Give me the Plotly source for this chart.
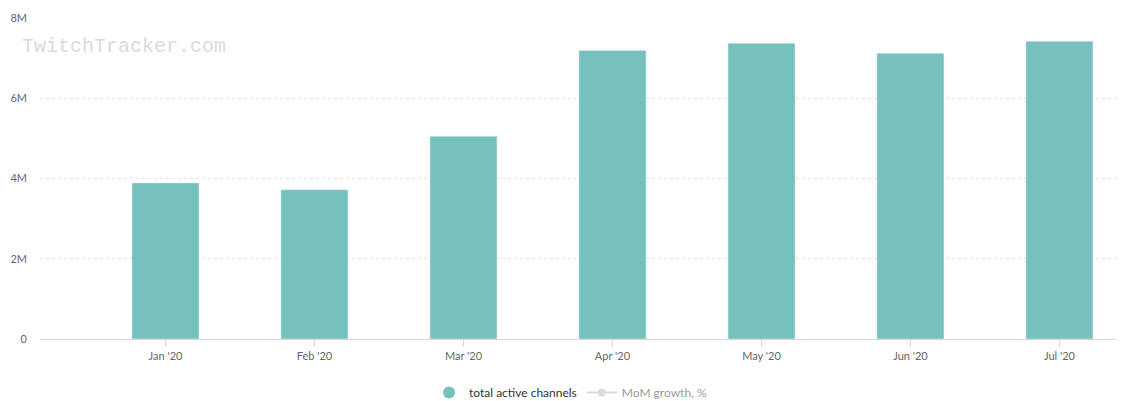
import plotly.graph_objects as go

months = ["Jan '20", "Feb '20", "Mar '20", "Apr '20", "May '20", "Jun '20", "Jul '20"]
active_channels = [3890000, 3720000, 5050000, 7190000, 7370000, 7120000, 7420000]
y_tickvals = [0, 2000000, 4000000, 6000000, 8000000]
y_ticktext = ["0", "2M", "4M", "6M", "8M"]

teal = "#76c0bd"

fig = go.Figure()
fig.add_trace(go.Bar(
    x=months, y=active_channels, marker_color=teal, width=0.45,
    name="total active channels", showlegend=False,
))
fig.add_trace(go.Scatter(
    x=[None], y=[None], mode="markers", name="total active channels",
    marker=dict(symbol="circle", size=12, color=teal),
))
fig.add_trace(go.Scatter(
    x=[None], y=[None], mode="lines+markers", name="MoM growth, %",
    marker=dict(symbol="circle", size=8, color="#bbbbbb"),
    line=dict(color="#bbbbbb", width=2), visible="legendonly",
))

fig.update_layout(
    width=1125, height=401,
    margin=dict(l=32, r=8, t=10, b=70, autoexpand=False),
    paper_bgcolor="white", plot_bgcolor="white",
    font=dict(family="Lato", size=11, color="#666666"),
    showlegend=True,
    legend=dict(orientation="h", xref="container", x=0.50, xanchor="center",
                yref="container", y=0.005, yanchor="bottom",
                font=dict(family="Lato", size=12, color="#333333"),
                itemwidth=30),
    xaxis=dict(
        type="category", range=[-0.842, 6.44], automargin=False,
        showline=True, linecolor="#d6d6d6", linewidth=1,
        ticks="outside", ticklen=7, tickcolor="#d6d6d6",
        showgrid=False, tickfont=dict(size=11, color="#666666"),
    ),
    yaxis=dict(
        range=[0, 8000000], tickvals=y_tickvals, ticktext=y_ticktext,
        automargin=False,
        showgrid=True, gridcolor="#e2e2e2", griddash="dot", gridwidth=1,
        zeroline=False, showline=False, ticks="", ticklabelstandoff=12,
        tickfont=dict(size=11, color="#666666"),
    ),
    annotations=[dict(
        text="TwitchTracker.com", xref="paper", yref="paper",
        x=-0.018, y=0.912, xanchor="left", yanchor="middle", showarrow=False,
        font=dict(family="Liberation Mono", size=20, color="#dadada"),
    )],
)

fig.write_html("out.html")
